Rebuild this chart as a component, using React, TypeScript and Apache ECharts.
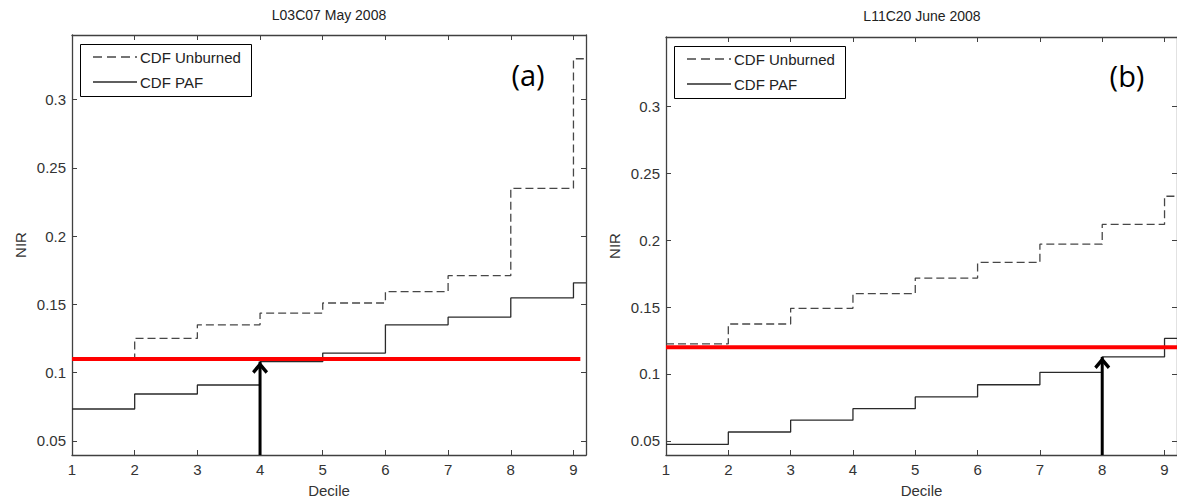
import React, { useEffect, useRef } from "react";
import * as echarts from "echarts";

// ---- data ----
const deciles = [1, 2, 3, 4, 5, 6, 7, 8, 9];
const unburnedA = [0.11, 0.125, 0.135, 0.1436, 0.151, 0.1594, 0.171, 0.235, 0.33];
const pafA = [0.0733, 0.0843, 0.0909, 0.108, 0.1143, 0.135, 0.1406, 0.1547, 0.1658];
const unburnedB = [0.1225, 0.1373, 0.149, 0.16, 0.1716, 0.1833, 0.197, 0.2117, 0.2328];
const pafB = [0.0473, 0.0566, 0.0654, 0.074, 0.0828, 0.0919, 0.1012, 0.1127, 0.1265];
const thresholds = [0.11, 0.12];
const thresholdEnds = [9.11, 9.2];
const arrowDeciles = [4, 8];
const titles = ["L03C07 May 2008", "L11C20 June 2008"];
const panelTags = ["(a)", "(b)"];
const seriesNames = ["CDF Unburned", "CDF PAF"];
const xTicks = [1, 2, 3, 4, 5, 6, 7, 8, 9];
const yTicks = [0.05, 0.1, 0.15, 0.2, 0.25, 0.3];
const xRange = [1, 9.2];
const yRanges = [
  [0.0396, 0.3474],
  [0.0394, 0.3518],
];

const unburned = [unburnedA, unburnedB];
const paf = [pafA, pafB];

const FONT = '"Liberation Sans", Arial, sans-serif';
const FS = 15;
const AXIS_COLOR = "#404040";
const DASH_COLOR = "#474747";
const SOLID_COLOR = "#2a2a2a";
const DASH = [8, 4];
const ARROW_PATH = "path://M8,0L16,9.5L13.6,12L8,5.6L2.4,12L0,9.5Z";

const grids = [
  { left: 72, top: 35, width: 514, height: 422 },
  { left: 666, top: 37, width: 512, height: 422 },
];
const legendBoxes = [
  { x: 80, y: 44, w: 171, h: 52 },
  { x: 674, y: 46, w: 171, h: 52 },
];
const titlePos = [
  { x: 329, y: 15 },
  { x: 922, y: 16 },
];
const tagPos = [
  { x: 528, y: 74 },
  { x: 1127, y: 75 },
];

function stepData(vals: number[]) {
  const pts = deciles.map((d, i) => [d, vals[i]]);
  pts.push([xRange[1], vals[vals.length - 1]]);
  return pts;
}

export default function App() {
  const ref = useRef<HTMLDivElement>(null);

  useEffect(() => {
    if (!ref.current) return;
    const chart = echarts.init(ref.current, null, { renderer: "svg" });

    const xAxes: any[] = [];
    const yAxes: any[] = [];
    const series: any[] = [];
    const graphics: any[] = [];

    [0, 1].forEach((p) => {
      const line = { show: true, onZero: false, lineStyle: { color: AXIS_COLOR, width: 1.3 } };
      const xTick = {
        show: true,
        inside: true,
        length: 5,
        customValues: xTicks,
        lineStyle: { color: AXIS_COLOR, width: 1 },
      };
      const yTick = {
        show: true,
        inside: true,
        length: 5,
        customValues: yTicks,
        lineStyle: { color: AXIS_COLOR, width: 1 },
      };
      xAxes.push({
        type: "value",
        gridIndex: p,
        position: "bottom",
        min: xRange[0],
        max: xRange[1],
        axisLine: line,
        axisTick: xTick,
        splitLine: { show: false },
        axisLabel: {
          color: "#333",
          fontSize: FS,
          fontFamily: FONT,
          margin: 7,
          customValues: xTicks,
        },
        name: "Decile",
        nameLocation: "middle",
        nameGap: 28,
        nameTextStyle: { color: "#333", fontSize: FS, fontFamily: FONT },
      });
      xAxes.push({
        type: "value",
        gridIndex: p,
        position: "top",
        min: xRange[0],
        max: xRange[1],
        axisLine: line,
        axisTick: xTick,
        splitLine: { show: false },
        axisLabel: { show: false },
      });
      yAxes.push({
        type: "value",
        gridIndex: p,
        position: "left",
        min: yRanges[p][0],
        max: yRanges[p][1],
        axisLine: line,
        axisTick: yTick,
        splitLine: { show: false },
        axisLabel: {
          color: "#333",
          fontSize: FS,
          fontFamily: FONT,
          margin: 6,
          customValues: yTicks,
        },
        name: "NIR",
        nameLocation: "middle",
        nameGap: 44,
        nameTextStyle: { color: "#333", fontSize: FS, fontFamily: FONT },
      });
      yAxes.push({
        type: "value",
        gridIndex: p,
        position: "right",
        min: yRanges[p][0],
        max: yRanges[p][1],
        axisLine: line,
        axisTick: yTick,
        splitLine: { show: false },
        axisLabel: { show: false },
      });

      series.push({
        type: "line",
        name: seriesNames[0],
        xAxisIndex: p * 2,
        yAxisIndex: p * 2,
        step: "end",
        symbol: "none",
        data: stepData(unburned[p]),
        lineStyle: { color: DASH_COLOR, width: 1.3, type: DASH },
        itemStyle: { color: DASH_COLOR },
        silent: true,
      });
      series.push({
        type: "line",
        name: seriesNames[1],
        xAxisIndex: p * 2,
        yAxisIndex: p * 2,
        step: "end",
        symbol: "none",
        data: stepData(paf[p]),
        lineStyle: { color: SOLID_COLOR, width: 1.3 },
        itemStyle: { color: SOLID_COLOR },
        silent: true,
      });
      series.push({
        type: "line",
        name: "threshold" + p,
        xAxisIndex: p * 2,
        yAxisIndex: p * 2,
        symbol: "none",
        data: [
          [xRange[0], thresholds[p]],
          [thresholdEnds[p], thresholds[p]],
        ],
        lineStyle: { color: "#ff0000", width: 4 },
        itemStyle: { color: "#ff0000" },
        silent: true,
        z: 3,
      });
      const ai = deciles.indexOf(arrowDeciles[p]);
      series.push({
        type: "line",
        name: "arrow" + p,
        xAxisIndex: p * 2,
        yAxisIndex: p * 2,
        symbol: "none",
        data: [
          { value: [arrowDeciles[p], yRanges[p][0]], symbol: "none" },
          {
            value: [arrowDeciles[p], paf[p][ai]],
            symbol: ARROW_PATH,
            symbolSize: [16, 12],
            symbolOffset: [0, 6],
          },
        ],
        lineStyle: { color: "#000", width: 3 },
        itemStyle: { color: "#000" },
        silent: true,
        clip: false,
        z: 4,
      });

      // legend (drawn as graphic so that line samples have no symbols)
      const b = legendBoxes[p];
      const rows = [b.y + 13, b.y + 38];
      graphics.push({
        type: "group",
        z: 100,
        children: [
          {
            type: "rect",
            shape: { x: b.x + 0.5, y: b.y + 0.5, width: b.w, height: b.h },
            style: { fill: "#fff", stroke: "#000", lineWidth: 1 },
          },
          {
            type: "line",
            shape: { x1: b.x + 13, y1: rows[0], x2: b.x + 57, y2: rows[0] },
            style: { stroke: DASH_COLOR, lineWidth: 1.3, lineDash: [9, 5] },
          },
          {
            type: "line",
            shape: { x1: b.x + 13, y1: rows[1], x2: b.x + 57, y2: rows[1] },
            style: { stroke: SOLID_COLOR, lineWidth: 1.3 },
          },
          {
            type: "text",
            x: b.x + 60,
            y: rows[0],
            style: {
              text: seriesNames[0],
              fontSize: FS,
              fontFamily: FONT,
              fill: "#222",
              textVerticalAlign: "middle",
            },
          },
          {
            type: "text",
            x: b.x + 60,
            y: rows[1],
            style: {
              text: seriesNames[1],
              fontSize: FS,
              fontFamily: FONT,
              fill: "#222",
              textVerticalAlign: "middle",
            },
          },
        ],
      });

      graphics.push({
        type: "text",
        x: titlePos[p].x,
        y: titlePos[p].y,
        style: {
          text: titles[p],
          fontSize: 14,
          fontFamily: FONT,
          fill: "#222",
          textAlign: "center",
          textVerticalAlign: "middle",
        },
      });
      graphics.push({
        type: "text",
        x: tagPos[p].x,
        y: tagPos[p].y,
        style: {
          text: panelTags[p],
          fontSize: 29,
          fontFamily: '"Open Sans", "Noto Sans", sans-serif',
          fill: "#000",
          textAlign: "center",
          textVerticalAlign: "middle",
        },
      });
    });

    chart.setOption({
      animation: false,
      backgroundColor: "#fff",
      grid: grids,
      xAxis: xAxes,
      yAxis: yAxes,
      series,
      graphic: graphics,
    });

    return () => chart.dispose();
  }, []);

  return (
    <div
      ref={ref}
      style={{ position: "absolute", left: 0, top: 0, width: 1177, height: 503, background: "#fff" }}
    />
  );
}
